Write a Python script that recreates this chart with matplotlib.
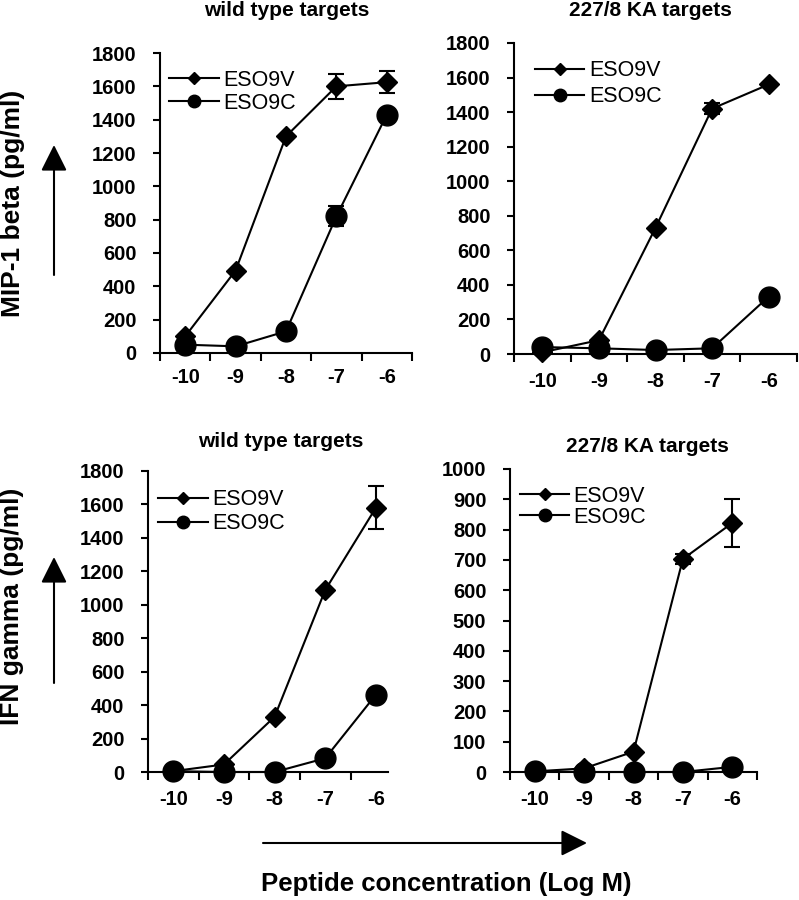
import matplotlib
matplotlib.use("Agg")
import matplotlib.pyplot as plt
from matplotlib.ticker import FixedLocator, NullFormatter

plt.rcParams['font.family'] = ['Liberation Sans', 'DejaVu Sans']

# ---------------- data ----------------
log_conc = [-10, -9, -8, -7, -6]
conc_labels = ['-10', '-9', '-8', '-7', '-6']
series_names = ['ESO9V', 'ESO9C']

mip_wt_v = [100, 495, 1300, 1600, 1625]
mip_wt_v_err = [0, 0, 0, 75, 67]
mip_wt_c = [50, 40, 130, 820, 1430]
mip_wt_c_err = [0, 0, 0, 60, 0]

mip_ka_v = [10, 80, 730, 1420, 1560]
mip_ka_v_err = [0, 0, 0, 30, 0]
mip_ka_c = [40, 33, 23, 33, 332]
mip_ka_c_err = [0, 0, 0, 0, 0]

ifn_wt_v = [5, 45, 330, 1088, 1580]
ifn_wt_v_err = [0, 0, 0, 0, 128]
ifn_wt_c = [5, 0, 0, 82, 462]
ifn_wt_c_err = [0, 0, 0, 0, 20]

ifn_ka_v = [2, 12, 67, 703, 822]
ifn_ka_v_err = [0, 0, 0, 15, 78]
ifn_ka_c = [2, 0, 0, 0, 17]
ifn_ka_c_err = [0, 0, 0, 0, 0]

titles = ['wild type targets', '227/8 KA targets', 'wild type targets', '227/8 KA targets']
ylabel_top = 'MIP-1 beta (pg/ml)'
ylabel_bottom = 'IFN gamma (pg/ml)'
xlabel = 'Peptide concentration (Log M)'

W, H = 799, 900
fig = plt.figure(figsize=(W / 100, H / 100), dpi=100)


def px_rect(x0, x1, y_top, y_bot):
    return [x0 / W, 1 - y_bot / H, (x1 - x0) / W, (y_bot - y_top) / H]


panels = [
    dict(rect=px_rect(160, 412, 53, 353), xmax=-5.5, ylim=1800, ystep=200,
         v=mip_wt_v, ve=mip_wt_v_err, c=mip_wt_c, ce=mip_wt_c_err,
         leg=(0.036, 0.945), ls=0.1, xpad=11, title=(287, 11)),
    dict(rect=px_rect(514, 797, 43, 354), xmax=-5.5, ylim=1800, ystep=200,
         v=mip_ka_v, ve=mip_ka_v_err, c=mip_ka_c, ce=mip_ka_c_err,
         leg=(0.074, 0.945), ls=0.25, xpad=13, title=(650, 11)),
    dict(rect=px_rect(148, 388, 471, 772), xmax=-5.76, ylim=1800, ystep=200,
         v=ifn_wt_v, ve=ifn_wt_v_err, c=ifn_wt_c, ce=ifn_wt_c_err,
         leg=(0.042, 0.94), ls=0.15, xpad=13, title=(281, 442)),
    dict(rect=px_rect(510, 757, 469, 772), xmax=-5.5, ylim=1000, ystep=100,
         v=ifn_ka_v, ve=ifn_ka_v_err, c=ifn_ka_c, ce=ifn_ka_c_err,
         leg=(0.04, 0.944), ls=0.0, xpad=13, title=(647, 447)),
]

for i, p in enumerate(panels):
    ax = fig.add_axes(p['rect'])
    ax.errorbar(log_conc, p['v'], yerr=p['ve'], fmt='none', ecolor='black',
                elinewidth=1.5, capsize=5.5, capthick=1.5, zorder=2, clip_on=False)
    ax.errorbar(log_conc, p['c'], yerr=p['ce'], fmt='none', ecolor='black',
                elinewidth=1.5, capsize=5.5, capthick=1.5, zorder=2, clip_on=False)
    ax.plot(log_conc, p['v'], color='black', lw=1.5, marker='D', ms=10,
            label=series_names[0], zorder=3, clip_on=False)
    ax.plot(log_conc, p['c'], color='black', lw=1.5, marker='o', ms=15,
            label=series_names[1], zorder=3, clip_on=False)
    ax.set_xlim(-10.5, p['xmax'])
    ax.set_ylim(0, p['ylim'])
    ax.set_xticks(log_conc)
    ax.set_xticklabels(conc_labels)
    bounds = [b + 0.5 for b in range(-11, -5) if b + 0.5 <= p['xmax'] + 1e-9]
    ax.xaxis.set_minor_locator(FixedLocator(bounds))
    ax.xaxis.set_minor_formatter(NullFormatter())
    ax.tick_params(axis='x', which='major', length=0, pad=p['xpad'])
    ax.tick_params(axis='x', which='minor', length=6, width=1.5, direction='out')
    ax.set_yticks(range(0, p['ylim'] + 1, p['ystep']))
    ax.tick_params(axis='y', length=5, width=1.5, direction='out', pad=12)
    for lab in ax.get_xticklabels() + ax.get_yticklabels():
        lab.set_fontsize(14.5)
        lab.set_fontweight('bold')
    for s in ['top', 'right']:
        ax.spines[s].set_visible(False)
    for s in ['left', 'bottom']:
        ax.spines[s].set_linewidth(1.5)
    ax.patch.set_visible(False)
    ax.legend(loc='upper left', bbox_to_anchor=p['leg'], frameon=False,
              fontsize=15.5, markerscale=0.6, handlelength=2.3,
              handletextpad=0.2, borderpad=0, borderaxespad=0,
              labelspacing=p['ls'])
    tx, ty = p['title']
    fig.text(tx / W, 1 - ty / H, titles[i], ha='center', va='center',
             fontsize=15, fontweight='bold')

# axis labels
fig.text(13 / W, 1 - 203 / H, ylabel_top, rotation=90, ha='center', va='center',
         fontsize=19, fontweight='bold')
fig.text(12 / W, 1 - 606 / H, ylabel_bottom, rotation=90, ha='center', va='center',
         fontsize=19, fontweight='bold')
fig.text(446 / W, 1 - 884 / H, xlabel, ha='center', va='center',
         fontsize=18.5, fontweight='bold')

# arrows
arrow_kw = dict(arrowstyle='-|>,head_length=0.8,head_width=0.4',
                mutation_scale=20, lw=1.5, color='black', shrinkA=0, shrinkB=0)
fig.add_artist(matplotlib.patches.FancyArrowPatch(
    (54 / W, 1 - 275 / H), (54 / W, 1 - 145 / H), transform=fig.transFigure, **arrow_kw))
fig.add_artist(matplotlib.patches.FancyArrowPatch(
    (54 / W, 1 - 683 / H), (54 / W, 1 - 557 / H), transform=fig.transFigure, **arrow_kw))
fig.add_artist(matplotlib.patches.FancyArrowPatch(
    (263 / W, 1 - 843 / H), (587 / W, 1 - 843 / H), transform=fig.transFigure, **arrow_kw))

fig.savefig('out.png', dpi=100)
